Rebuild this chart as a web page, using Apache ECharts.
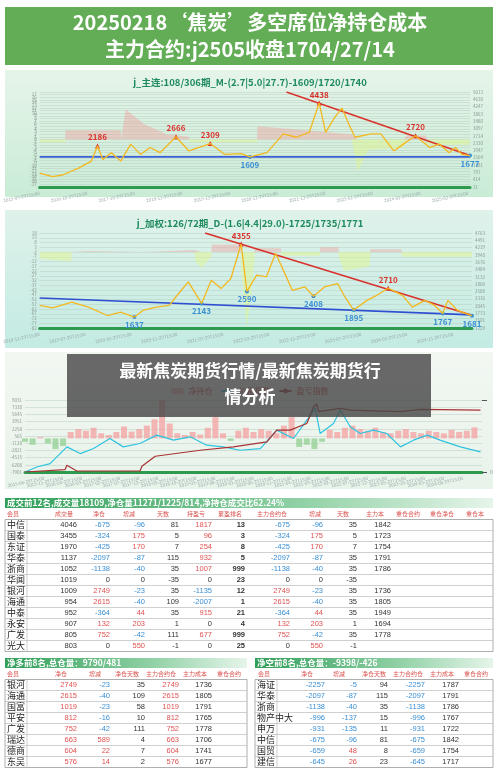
<!DOCTYPE html>
<html><head><meta charset="utf-8">
<script src="https://cdn.jsdelivr.net/npm/echarts@6.0.0/dist/echarts.min.js"></script>
<style>html,body{margin:0;padding:0;background:#fff}#c{width:500px;height:772px}</style>
</head><body><div id="c"></div>
<script>
// ---------- chart 1 : j_主连 ----------
const p1Month=[0,3.4,6.0,10.2,13.6,15.2,16.6,18.8,21.3,23.9,26.5,29.0,31.6,35.8,39.2,44.8,48.6,52.9,55.2,59.7,64.0,67.4,70.8,73.4,75.1,77.6,79.4,81.1,82.8,87.0,89.6,93.0,95.5,98.7,102.4,104.9,107.5,109.2,110.9,113.0];
const p1Price=[760,580,660,1020,1390,2186,1470,1830,1390,2280,1740,2100,1830,2666,1920,2309,1740,1780,1609,1830,2820,2640,2900,4438,2900,3720,4170,3360,2640,2820,2820,1920,2280,2720,2100,2280,1830,2100,1740,1677];
const p1High=[5,13,15,23,33], p1Low=[18,39];
const n1Month=[0,6.7,6.8,21.3,21.4,22.6,27.3,33.3,39.2,39.3,57.1,57.2,69.9,81.9,83.6,86.2,95.5,96.4,101.5,101.6,112.9];
const n1Val=[-1,-1,3.5,3.5,0,11.5,6,2,1,-1,-1,5,3.5,2,-12,-4,-3,1.5,1.5,-2,-2];
const t1Red=[[64.8,5013],[113,1677]], t1Blue=[[0,1609],[113,1609]];
// ---------- chart 2 : j_加权 ----------
const p2Month=[0,2.3,5.6,8.5,11.8,14.1,16.5,18.0,20.3,22.6,23.7,25.9,28.2,29.9,31.6,33.3,35.1,36.1,37.8,39.5,41.1,42.3,44.0,46.2,47.7,49.6,51.9,53.0,54.7,57.0,58.7,60.7,63.2,64.9,67.1,68.8,70.2,71.1,72.8,75.3];
const p2Price=[2069,1981,2194,2006,1693,1818,1637,1881,2006,2069,2382,2946,2143,3009,2695,3072,4355,2590,3197,3134,4011,3447,2632,2758,2408,2758,2883,2445,1895,2257,2445,2710,2445,2006,2257,2069,1767,2257,1881,1681];
const p2High=[16,31], p2Low=[6,12,17,24,28,36,39];
const n2Month=[0,5.5,5.6,8.5,8.6,18,18.1,27,27.1,28.2,29.9,30,35,35.1,36.1,37.4,37.5,42,42.1,48.8,48.9,52,52.1,53,55,57.5,57.6,63,63.1,75.3];
const n2Val=[-7,-10,1,1,0,0,2,2,-10,-17,-5,8,8,-20,-80,-10,4,4,-4,-4,5,5,-5,-20,-18,-15,3,3,-5,-5];
const t2Red=[[28.8,4763],[75.3,1700]], t2Blue=[[0,2345],[75.3,1718]];
// ---------- chart 3 : 净持仓 / 价格指数 / 盈亏指数 ----------
const c3Month=[0,3.1,6.6,11,14.5,18,22.3,25.8,30.2,34.6,39,43.4,47.7,52.1,56.5,61.8,66.1,70.5,74,76.2,77.5,81,82.8,85.4,88,91.5,95,98.6,102,105.6,109,114.3,119.6];
const c3Price=[-7901,-6720,-5932,-1993,-3569,-2387,-24,-1993,-1206,764,-418,370,-1600,-1993,-2781,-2387,1945,-24,4308,7065,1158,3520,6671,2733,1158,1945,1158,-1993,-418,764,-418,-1993,-3175];
const c3PnlMonth=[0,10.5,11,13.6,30.2,30.7,34.2,46,54.7,63.5,66.1,69.6,74,75.8,76.6,77.1,82.8,85.4,98.6,103.8,119.6];
const c3Pnl=[-7901,-7350,-6326,-7665,-7665,-6562,-4199,-2781,-1993,-812,1945,1945,3520,7459,8089,6277,7065,6671,6277,6829,6671];
const c3Net=[-800,-1500,300,-1200,-2500,-1800,1500,2200,1800,2500,1200,800,1500,2800,1600,2200,3000,4500,9000,3500,1200,800,1500,900,2500,5000,1200,-600,1800,2500,1500,2200,1800,1200,3000,5000,-2000,-1500,-2500,-800,2000,1500,2500,3000,2200,1800,2500,1500,1200,1800,2200,1500,1200,1800,1500,1200,2000,1500,1800,2600];
const c3Legend=['净持仓','价格指数','盈亏指数'];
// ---------- tables ----------
const t1Title='成交前12名,成交量18109,净仓量11271/1225/814,净持仓成交比62.24%';
const t1Head=['会员','成交量','净仓','增减','天数','持盈亏','累盈排名','主力合约仓','增减','天数','主力本','重仓合约','重仓净仓','重仓本'];
const t1Names=['中信','国泰','东证','华泰','浙商','华闻','银河','海通','中泰','永安','广发','光大'];
const t1Rows=[[4046,-675,-96,81,1817,13,-675,-96,35,1842],[3455,-324,175,5,96,3,-324,175,5,1723],[1970,-425,170,7,254,8,-425,170,7,1754],[1137,-2097,-87,115,932,5,-2097,-87,35,1791],[1052,-1138,-40,35,1007,999,-1138,-40,35,1786],[1019,0,0,-35,0,23,0,0,-35,''],[1009,2749,-23,35,-1135,12,2749,-23,35,1736],[954,2615,-40,109,-2007,1,2615,-40,35,1805],[952,-364,44,35,915,21,-364,44,35,1949],[907,132,203,1,0,4,132,203,1,1694],[805,752,-42,111,677,999,752,-42,35,1778],[803,0,550,-1,0,25,0,550,-1,'']];
const t2Title='净多前8名,总仓量：9790/481';
const t3Title='净空前8名,总仓量：-9398/-426';
const t23Head=['会员','净仓','增减','净仓天数','主力合约仓','主力成本','重仓合约'];
const t2Names=['银河','海通','国富','平安','广发','瑞达','德商','东吴'];
const t2Rows=[[2749,-23,35,2749,1736],[2615,-40,109,2615,1805],[1019,-23,58,1019,1791],[812,-16,10,812,1765],[752,-42,111,752,1778],[663,589,4,663,1706],[604,22,7,604,1741],[576,14,2,576,1677]];
const t3Names=['海证','华泰','浙商','物产中大','申万','中信','国贸','建信'];
const t3Rows=[[-2257,-5,94,-2257,1787],[-2097,-87,115,-2097,1791],[-1138,-40,35,-1138,1786],[-996,-137,15,-996,1767],[-931,-135,11,-931,1722],[-675,-96,81,-675,1842],[-659,48,8,-659,1754],[-645,26,23,-645,1717]];

const RED='#d9322c',BLUE='#3b8fd4',YEL='#f3b820',FONT='"Noto Sans CJK SC","Noto Sans",sans-serif';
const zip=(a,b)=>a.map((v,i)=>[v,b[i]]);
function dateFmt(start){return v=>{const t=start+Math.round(v);const y=Math.floor(t/12),m=t%12+1;return y+'-'+String(m).padStart(2,'0')+'-29T15:00';};}

function tickAxis(gi,min,max,interval,pos,fmt,split){
  return {gridIndex:gi,type:'value',position:pos,min,max,interval,
    axisLine:{show:false},axisTick:{show:false},
    axisLabel:{fontSize:4.5,color:'#8a9a90',margin:3,formatter:fmt||(v=>Math.round(v))},
    splitLine:{show:!!split,lineStyle:{color:'#b8cfc0',width:0.5}}};
}
function xAx(gi,max,interval,fmt){
  return {gridIndex:gi,type:'value',min:0,max,interval,
    axisLine:{show:true,onZero:false,lineStyle:{color:'#2e9a4e',width:3}},axisTick:{show:false},splitLine:{show:false},
    axisLabel:{fontSize:4.5,color:'#9aa',rotate:12,margin:6,formatter:fmt,showMaxLabel:false}};
}
function netSeries(xi,yi,m,v){
  return [
   {type:'line',xAxisIndex:xi,yAxisIndex:yi,data:zip(m,v.map(x=>Math.max(x,0))),symbol:'none',lineStyle:{width:0},areaStyle:{color:'rgba(245,150,150,0.55)'},z:1},
   {type:'line',xAxisIndex:xi,yAxisIndex:yi,data:zip(m,v.map(x=>Math.min(x,0))),symbol:'none',lineStyle:{width:0},areaStyle:{color:'rgba(225,245,140,0.7)'},z:1}];
}
function marks(month,price,hi,lo){
  const d=[];
  hi.forEach(i=>d.push({coord:[month[i],price[i]],value:price[i],symbol:'triangle',symbolSize:5,itemStyle:{color:RED},label:{show:true,position:'top',color:RED,fontSize:8,fontWeight:'bold',distance:2}}));
  lo.forEach(i=>d.push({coord:[month[i],price[i]],value:price[i],symbol:'circle',symbolSize:4,itemStyle:{color:BLUE},label:{show:true,position:'bottom',color:BLUE,fontSize:8,fontWeight:'bold',distance:2}}));
  return {data:d,silent:true};
}
function priceSeries(xi,yi,m,p,hi,lo){
  return {type:'line',xAxisIndex:xi,yAxisIndex:yi,data:zip(m,p),symbol:'none',lineStyle:{color:YEL,width:1.3},z:5,markPoint:marks(m,p,hi,lo)};
}
function segLine(xi,yi,pts,color){return {type:'line',xAxisIndex:xi,yAxisIndex:yi,data:pts,symbol:'none',lineStyle:{color,width:1.6},z:4};}

// ---------- graphics ----------
const G=[];
G.push({type:'rect',shape:{x:5,y:7,width:488,height:58},style:{fill:'#62ad55'},z:0});
G.push({type:'text',x:250,y:22,style:{text:'20250218‘焦炭’多空席位净持仓成本',fill:'#fff',font:'bold 20px '+FONT,align:'center',verticalAlign:'middle'}});
G.push({type:'text',x:250,y:49,style:{text:'主力合约:j2505收盘1704/27/14',fill:'#fff',font:'bold 20px '+FONT,align:'center',verticalAlign:'middle'}});
function panel(y,h,c1,c2){G.push({type:'rect',z:-1,shape:{x:5,y,width:488,height:h},style:{fill:new echarts.graphic.LinearGradient(0,0,0,1,[{offset:0,color:c1},{offset:1,color:c2}])}});}
panel(70,127,'#e6f4e9','#c9ecd6');
panel(210,138,'#dff2ea','#c3ebe3');
panel(352,137,'#f2f7f2','#e8f3ea');
G.push({type:'text',x:250,y:82,style:{text:'j_主连:108/306期_M-(2.7|5.0|27.7)-1609/1720/1740',fill:'#1e8a5e',font:'bold 9.5px '+FONT,align:'center',verticalAlign:'middle'}});
G.push({type:'text',x:250,y:223,style:{text:'j_加权:126/72期_D-(1.6|4.4|29.0)-1725/1735/1771',fill:'#1e8a5e',font:'bold 9.5px '+FONT,align:'center',verticalAlign:'middle'}});

function table(x0,x1,yTitle,title,heads,headX,names,rows,rightX,colored,bold){
  G.push({type:'rect',shape:{x:x0,y:yTitle-5,width:x1-x0,height:10},style:{fill:new echarts.graphic.LinearGradient(0,0,1,0,[{offset:0,color:'#2f9e58'},{offset:0.6,color:'#8fd0a4'},{offset:1,color:'#e6f5ea'}])}});
  G.push({type:'text',x:x0+2,y:yTitle,style:{text:title,fill:'#fff',font:'bold 8.5px '+FONT,verticalAlign:'middle'}});
  const yh=yTitle+11;
  heads.forEach((h,i)=>G.push({type:'text',x:headX[i],y:yh,style:{text:h,fill:'#d9534f',font:'6px '+FONT,verticalAlign:'middle'}}));
  const top=yh+5.5,bot=top+11*names.length;
  G.push({type:'rect',shape:{x:x0,y:top,width:x1-x0,height:bot-top},style:{fill:'rgba(255,255,255,0.85)',stroke:'#9a9a9a',lineWidth:0.8}});
  names.forEach((n,r)=>{
    const yc=top+5.5+11*r;
    if(r>0)G.push({type:'line',shape:{x1:x0,y1:top+11*r,x2:x1,y2:top+11*r},style:{stroke:'#b0b0b0',lineWidth:0.6}});
    G.push({type:'text',x:x0+2,y:yc,style:{text:n,fill:'#222',font:'9px '+FONT,verticalAlign:'middle'}});
    rows[r].forEach((v,c)=>{
      let col='#333';
      if(colored.includes(c)&&typeof v==='number'&&v!==0)col=v<0?BLUE:'#e05252';
      G.push({type:'text',x:rightX[c],y:yc,style:{text:String(v),fill:col,font:(bold.includes(c)?'bold ':'')+'7.5px "Liberation Sans",sans-serif',align:'right',verticalAlign:'middle'}});
    });
  });
  G.push({type:'line',shape:{x1:x0+22,y1:top,x2:x0+22,y2:bot},style:{stroke:'#b0b0b0',lineWidth:0.6}});
}
table(5,493,503,t1Title,t1Head,[7,55,93,123,157,187,218,257,309,337,366,396,430,466],t1Names,t1Rows,[77,110,145,179,212,245,290,323,357,391],[1,2,4,6,7],[5]);
table(5,247,663,t2Title,t23Head,[7,55,89,115,146,183,217],t2Names,t2Rows,[77,110,145,179,212],[0,1,3],[]);
table(255,493,663,t3Title,t23Head,[258,301,333,362,393,430,464],t3Names,t3Rows,[325,357,388,425,459],[0,1,3],[]);

G.push({type:'rect',z:100,shape:{x:67,y:354,width:364,height:63},style:{fill:'rgba(72,72,72,0.82)'}});
G.push({type:'text',z:101,x:250,y:371,style:{text:'最新焦炭期货行情/最新焦炭期货行',fill:'#fff',font:'bold 17px '+FONT,align:'center',verticalAlign:'middle'}});
G.push({type:'text',z:101,x:250,y:397,style:{text:'情分析',fill:'#fff',font:'bold 17px '+FONT,align:'center',verticalAlign:'middle'}});

const chart=echarts.init(document.getElementById('c'),null,{renderer:'canvas'});
chart.setOption({
  animation:false,textStyle:{fontFamily:FONT},
  graphic:G,
  legend:{top:382,left:'center',itemWidth:12,itemHeight:6,textStyle:{fontSize:8,color:'#c33'},data:[{name:c3Legend[0],icon:'rect'},{name:c3Legend[1]},{name:c3Legend[2]}]},
  grid:[{left:27,right:30,top:92,height:95},{left:27,right:28,top:233,height:95},{left:25,right:18,top:400,height:72}],
  xAxis:[xAx(0,113,12.5,dateFmt(2015*12+8)),xAx(1,75.3,8,dateFmt(2018*12+10)),xAx(2,120,5,dateFmt(2015*12))],
  yAxis:[
    tickAxis(0,-18,18,1,'left',null,true),
    tickAxis(0,31,5013,383.23,'right'),
    tickAxis(1,-80,20,5,'left',v=>v-2,true),
    tickAxis(1,1229,4763,271.85,'right'),
    tickAxis(2,-7901,9031,1693.2,'left',null,true),
    {gridIndex:2,type:'value',position:'right',min:0,max:1,interval:1,axisLabel:{fontSize:5,color:'#8a9a90',formatter:v=>v===0?'0':''},axisLine:{show:false},splitLine:{show:false}}
  ],
  series:[
    ...netSeries(0,0,n1Month,n1Val),
    segLine(0,1,t1Blue,'#3a5fd8'),segLine(0,1,t1Red,'#d9322c'),
    priceSeries(0,1,p1Month,p1Price,p1High,p1Low),
    ...netSeries(1,2,n2Month,n2Val),
    segLine(1,3,t2Blue,'#2f4fd0'),segLine(1,3,t2Red,'#d9322c'),
    priceSeries(1,3,p2Month,p2Price,p2High,p2Low),
    {name:c3Legend[0],type:'bar',xAxisIndex:2,yAxisIndex:4,barWidth:6,data:c3Net.map((v,i)=>({value:[i*2,v],itemStyle:{color:v>=0?'rgba(245,160,160,0.75)':'rgba(150,210,150,0.8)'}})),itemStyle:{color:'rgba(245,160,160,0.8)'}},
    {name:c3Legend[1],type:'line',xAxisIndex:2,yAxisIndex:4,data:zip(c3Month,c3Price),symbol:'none',lineStyle:{color:'#2ec4e0',width:1.2},itemStyle:{color:'#2ec4e0'}},
    {name:c3Legend[2],type:'line',xAxisIndex:2,yAxisIndex:4,data:zip(c3PnlMonth,c3Pnl),symbol:'none',lineStyle:{color:'#a83232',width:1.2},itemStyle:{color:'#a83232'}}
  ]
});
</script></body></html>
